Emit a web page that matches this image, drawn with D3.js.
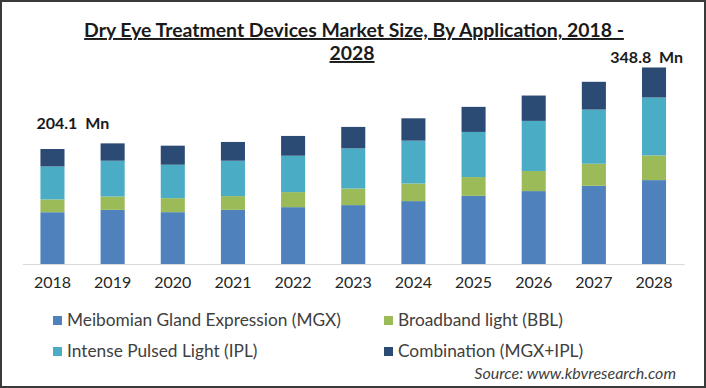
<!DOCTYPE html>
<html>
<head>
<meta charset="utf-8">
<script src="https://cdn.jsdelivr.net/npm/d3@7"></script>
<style>
  body { margin: 0; background: #fff; }
  svg { display: block; }
</style>
</head>
<body>
<div id="chart"></div>
<script>
var years = ["2018", "2019", "2020", "2021", "2022", "2023", "2024", "2025", "2026", "2027", "2028"];
var mgx   = [91.9, 96.1, 92.0, 96.1, 100.9, 104.5, 111.6, 121.0, 129.4, 138.8, 148.9];
var bbl   = [22.7, 23.7, 24.9, 24.4, 26.7, 29.5, 31.3, 33.3, 35.6, 39.2, 43.8];
var ipl   = [58.5, 63.5, 59.3, 62.8, 64.6, 71.2, 76.0, 80.1, 89.0, 96.1, 102.8];
var combo = [31.0, 30.8, 33.8, 33.3, 35.1, 38.1, 39.7, 44.5, 45.0, 49.3, 53.3];

var seriesNames = ["Meibomian Gland Expression (MGX)", "Broadband light (BBL)", "Intense Pulsed Light (IPL)", "Combination (MGX+IPL)"];
var seriesKeys = ["mgx", "bbl", "ipl", "combo"];
var colors = ["#4f81bd", "#9bbb59", "#4bacc6", "#2c4b74"];
var endLabels = ["204.1  Mn", "348.8  Mn"];

var W = 706, H = 388;
var font = "Lato, 'Open Sans', sans-serif";

var rows = years.map((y, i) => ({year: y, mgx: mgx[i], bbl: bbl[i], ipl: ipl[i], combo: combo[i]}));
var stacked = d3.stack().keys(seriesKeys)(rows);

var x = d3.scaleBand()
    .domain(years)
    .range([22.4, 684.1])
    .paddingInner(0.6)
    .paddingOuter(0.3);

var y = d3.scaleLinear()
    .domain([0, 350])
    .range([264, 66.8]);

var svg = d3.select("#chart")
    .append("svg")
    .attr("width", W)
    .attr("height", H);

svg.append("rect")
    .attr("x", 1).attr("y", 1)
    .attr("width", W - 2).attr("height", H - 2)
    .attr("fill", "#fff")
    .attr("stroke", "#3a3a3a")
    .attr("stroke-width", 2);

// title
var title = svg.append("text")
    .attr("text-anchor", "middle")
    .attr("font-family", font)
    .attr("font-weight", "bold")
    .attr("font-size", "19.4px")
    .attr("fill", "#1a1a1a")
    .style("text-decoration", "underline");
title.append("tspan").attr("x", 354).attr("y", 37)
    .text("Dry Eye Treatment Devices Market Size, By Application, 2018 -");
title.append("tspan").attr("x", 352).attr("y", 60).text("2028");

// bars
svg.append("g")
  .selectAll("g")
  .data(stacked)
  .join("g")
    .attr("fill", (d, i) => colors[i])
  .selectAll("rect")
  .data(d => d)
  .join("rect")
    .attr("x", d => x(d.data.year))
    .attr("y", d => y(d[1]))
    .attr("width", x.bandwidth())
    .attr("height", d => y(d[0]) - y(d[1]));

// baseline
svg.append("g")
    .attr("transform", "translate(0,264)")
    .call(d3.axisBottom(x).tickSize(0).tickPadding(13))
    .call(g => g.select(".domain").attr("stroke", "#d9d9d9"))
    .call(g => g.selectAll("text")
        .attr("font-family", font)
        .attr("font-size", "16px")
        .attr("fill", "#262626"));

// end labels
var totals = rows.map(d => d.mgx + d.bbl + d.ipl + d.combo);
svg.append("text")
    .attr("x", x("2018") - 4)
    .attr("y", y(totals[0]) - 20)
    .attr("font-family", font)
    .attr("font-weight", "bold")
    .attr("font-size", "16px")
    .attr("fill", "#1a1a1a")
    .style("white-space", "pre")
    .text(endLabels[0]);
svg.append("text")
    .attr("x", x("2028") + x.bandwidth() + 17)
    .attr("y", y(totals[10]) - 4)
    .attr("text-anchor", "end")
    .attr("font-family", font)
    .attr("font-weight", "bold")
    .attr("font-size", "16px")
    .attr("fill", "#1a1a1a")
    .style("white-space", "pre")
    .text(endLabels[1]);

// legend
var legPos = [[53, 326], [384, 326], [53, 357], [384, 357]];
var legend = svg.append("g")
  .selectAll("g")
  .data(seriesNames)
  .join("g")
    .attr("transform", (d, i) => "translate(" + legPos[i][0] + "," + legPos[i][1] + ")");
legend.append("rect")
    .attr("x", 0).attr("y", -10)
    .attr("width", 9).attr("height", 9)
    .attr("fill", (d, i) => colors[i]);
legend.append("text")
    .attr("x", 14)
    .attr("font-family", font)
    .attr("font-size", "17.3px")
    .attr("fill", "#404040")
    .text(d => d);

svg.append("text")
    .attr("x", 676)
    .attr("y", 379)
    .attr("text-anchor", "end")
    .attr("font-family", font)
    .attr("font-style", "italic")
    .attr("font-size", "16px")
    .attr("fill", "#404040")
    .text("Source: www.kbvresearch.com");
</script>
</body>
</html>
